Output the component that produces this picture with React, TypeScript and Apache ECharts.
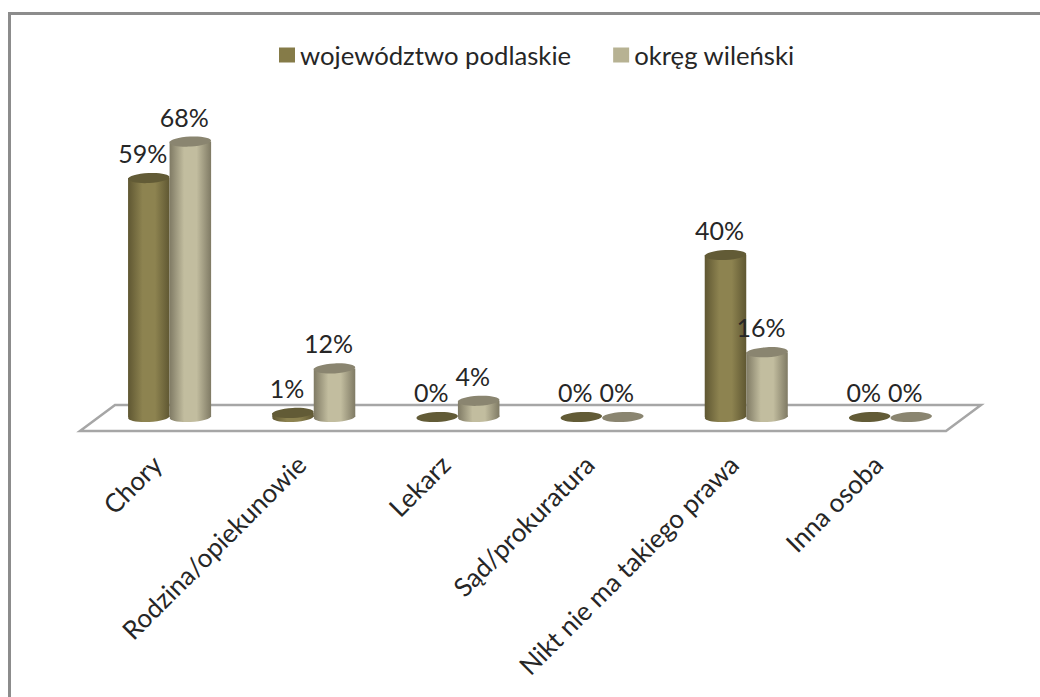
import React, { useEffect, useRef } from "react";
import * as echarts from "echarts";

const categories = ["Chory", "Rodzina/opiekunowie", "Lekarz", "Sąd/prokuratura", "Nikt nie ma takiego prawa", "Inna osoba"];
const podlaskie = [59, 1, 0, 0, 40, 0];
const wilenski = [68, 12, 4, 0, 16, 0];
const seriesNames = ["województwo podlaskie", "okręg wileński"];

const FONT = "Lato, 'Open Sans', sans-serif";

function cylinder(offsetSign: number, side: string[], top: string) {
  return (params: any, api: any) => {
    const idx = api.value(0);
    const val = api.value(1);
    const band = api.size([1, 0])[0];
    const w = band * 0.288;
    const base = api.coord([idx, 0]);
    const head = api.coord([idx, val]);
    const cx = base[0] + (offsetSign * w) / 2;
    const rx = w / 2;
    const ry = 5;
    const rot = 0.05;
    const gradient = new echarts.graphic.LinearGradient(0, 0, 1, 0, [
      { offset: 0, color: side[0] },
      { offset: 0.35, color: side[1] },
      { offset: 0.65, color: side[1] },
      { offset: 1, color: side[0] },
    ]);
    const children: any[] = [];
    if (val > 0) {
      children.push({
        type: "ellipse", x: cx, y: base[1], rotation: rot,
        shape: { cx: 0, cy: 0, rx, ry }, style: { fill: gradient },
      });
      children.push({
        type: "rect",
        shape: { x: cx - rx, y: head[1], width: w, height: base[1] - head[1] },
        style: { fill: gradient },
      });
    }
    children.push({
      type: "ellipse", x: cx, y: head[1], rotation: rot,
      shape: { cx: 0, cy: 0, rx, ry }, style: { fill: top },
    });
    children.push({
      type: "text", z2: 100,
      style: {
        text: val + "%", x: cx - 6, y: head[1] - 25,
        align: "center", verticalAlign: "middle",
        fontFamily: FONT, fontSize: 25, fill: "#262626",
      },
    });
    return { type: "group", children };
  };
}

export default function App() {
  const ref = useRef<HTMLDivElement>(null);
  useEffect(() => {
    const chart = echarts.init(ref.current!, null, { renderer: "svg" });
    chart.setOption({
      animation: false,
      backgroundColor: "#fff",
      color: ["#857b48", "#b7b293"],
      grid: { left: 97.5, right: 77.5, top: 133.5, bottom: 280 },
      legend: {
        left: 279, top: 42, padding: 0, itemWidth: 16, itemHeight: 15, itemGap: 42,
        icon: "rect",
        textStyle: { fontFamily: FONT, fontSize: 25.7, color: "#262626" },
        data: seriesNames,
      },
      xAxis: {
        type: "category", data: categories,
        axisLine: { show: false }, axisTick: { show: false },
        axisLabel: {
          rotate: 45, interval: 0, margin: 30,
          padding: [0, 18, 30, 0],
          fontFamily: FONT, fontSize: 26, color: "#262626",
        },
      },
      yAxis: { type: "value", min: 0, max: 70, show: false },
      graphic: [
        {
          type: "rect", z: 0,
          shape: { x: 9.5, y: 13.5, width: 1050, height: 700 },
          style: { fill: "#fff", stroke: "#8c8c8c", lineWidth: 3 },
        },
        {
          type: "polygon", z: 1,
          shape: { points: [[115, 405], [981, 405], [946, 431], [80, 431]] },
          style: { fill: "#fff", stroke: "#a6a6a6", lineWidth: 2.5 },
        },
      ],
      series: [
        {
          name: seriesNames[0], type: "custom", coordinateSystem: "cartesian2d",
          encode: { x: 0, y: 1 },
          renderItem: cylinder(-1, ["#5f5732", "#8d8350"], "#625b36"),
          data: podlaskie.map((v, i) => [i, v]),
        },
        {
          name: seriesNames[1], type: "custom", coordinateSystem: "cartesian2d",
          encode: { x: 0, y: 1 },
          renderItem: cylinder(1, ["#7f7a64", "#c2bd9f"], "#8a8570"),
          data: wilenski.map((v, i) => [i, v]),
        },
      ],
    });
    return () => chart.dispose();
  }, []);
  return <div ref={ref} style={{ position: "absolute", left: 0, top: 0, width: 1040, height: 697 }} />;
}
